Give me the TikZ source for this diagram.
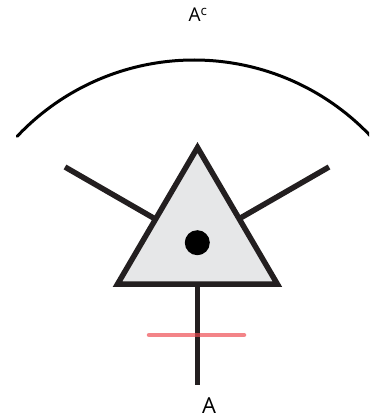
\documentclass[tikz,border=0pt]{standalone}
\usepackage{fontspec}
\setmainfont{Open Sans}
\begin{document}
\begin{tikzpicture}[x=1pt,y=1pt,
  thickline/.style={line width=5.5pt,draw={rgb,255:red,35;green,31;blue,32}},
  arcline/.style={line width=3pt,draw=black},
  tri/.style={line width=5.5pt,draw={rgb,255:red,35;green,31;blue,32},fill={rgb,255:red,230;green,231;blue,232},line join=miter},
  cut/.style={line width=4.5pt,draw={rgb,255:red,238;green,73;blue,80},draw opacity=0.68,line cap=round},
  lbl/.style={inner sep=0pt,anchor=base}]
\useasboundingbox (0,0) rectangle (369,417);
\begin{scope}
\clip (0,0) rectangle (369,417);
\draw[arcline,line cap=round] (194,114) ++(136.7:243) arc[start angle=136.7,end angle=42,radius=243];
\end{scope}
\coordinate (L) at (65,250);
\coordinate (R) at (329,250);
\coordinate (LE) at (157,197);
\coordinate (RE) at (237,197);
\coordinate (B) at (197.5,32);
\draw[thickline] (L) -- (LE);
\draw[thickline] (R) -- (RE);
\coordinate (t1) at (117.5,132.8);
\coordinate (t2) at (277.4,132.8);
\coordinate (t3) at (197.5,269.5);
\coordinate (TB) at (197.5,132.8);
\draw[thickline] (TB) -- (B);
\filldraw[tri] (t1) -- (t2) -- (t3) -- cycle;
\fill (197.3,174.3) circle[radius=12.5];
\coordinate (c1) at (149,82);
\coordinate (c2) at (244,82);
\draw[cut] (c1) -- (c2);
\node[lbl,font=\fontsize{19}{22}\selectfont] (Ac) at (198,395) {A\textsuperscript{c}};
\node[lbl,font=\fontsize{22}{26}\selectfont] (A) at (209,4) {A};
\end{tikzpicture}
\end{document}
